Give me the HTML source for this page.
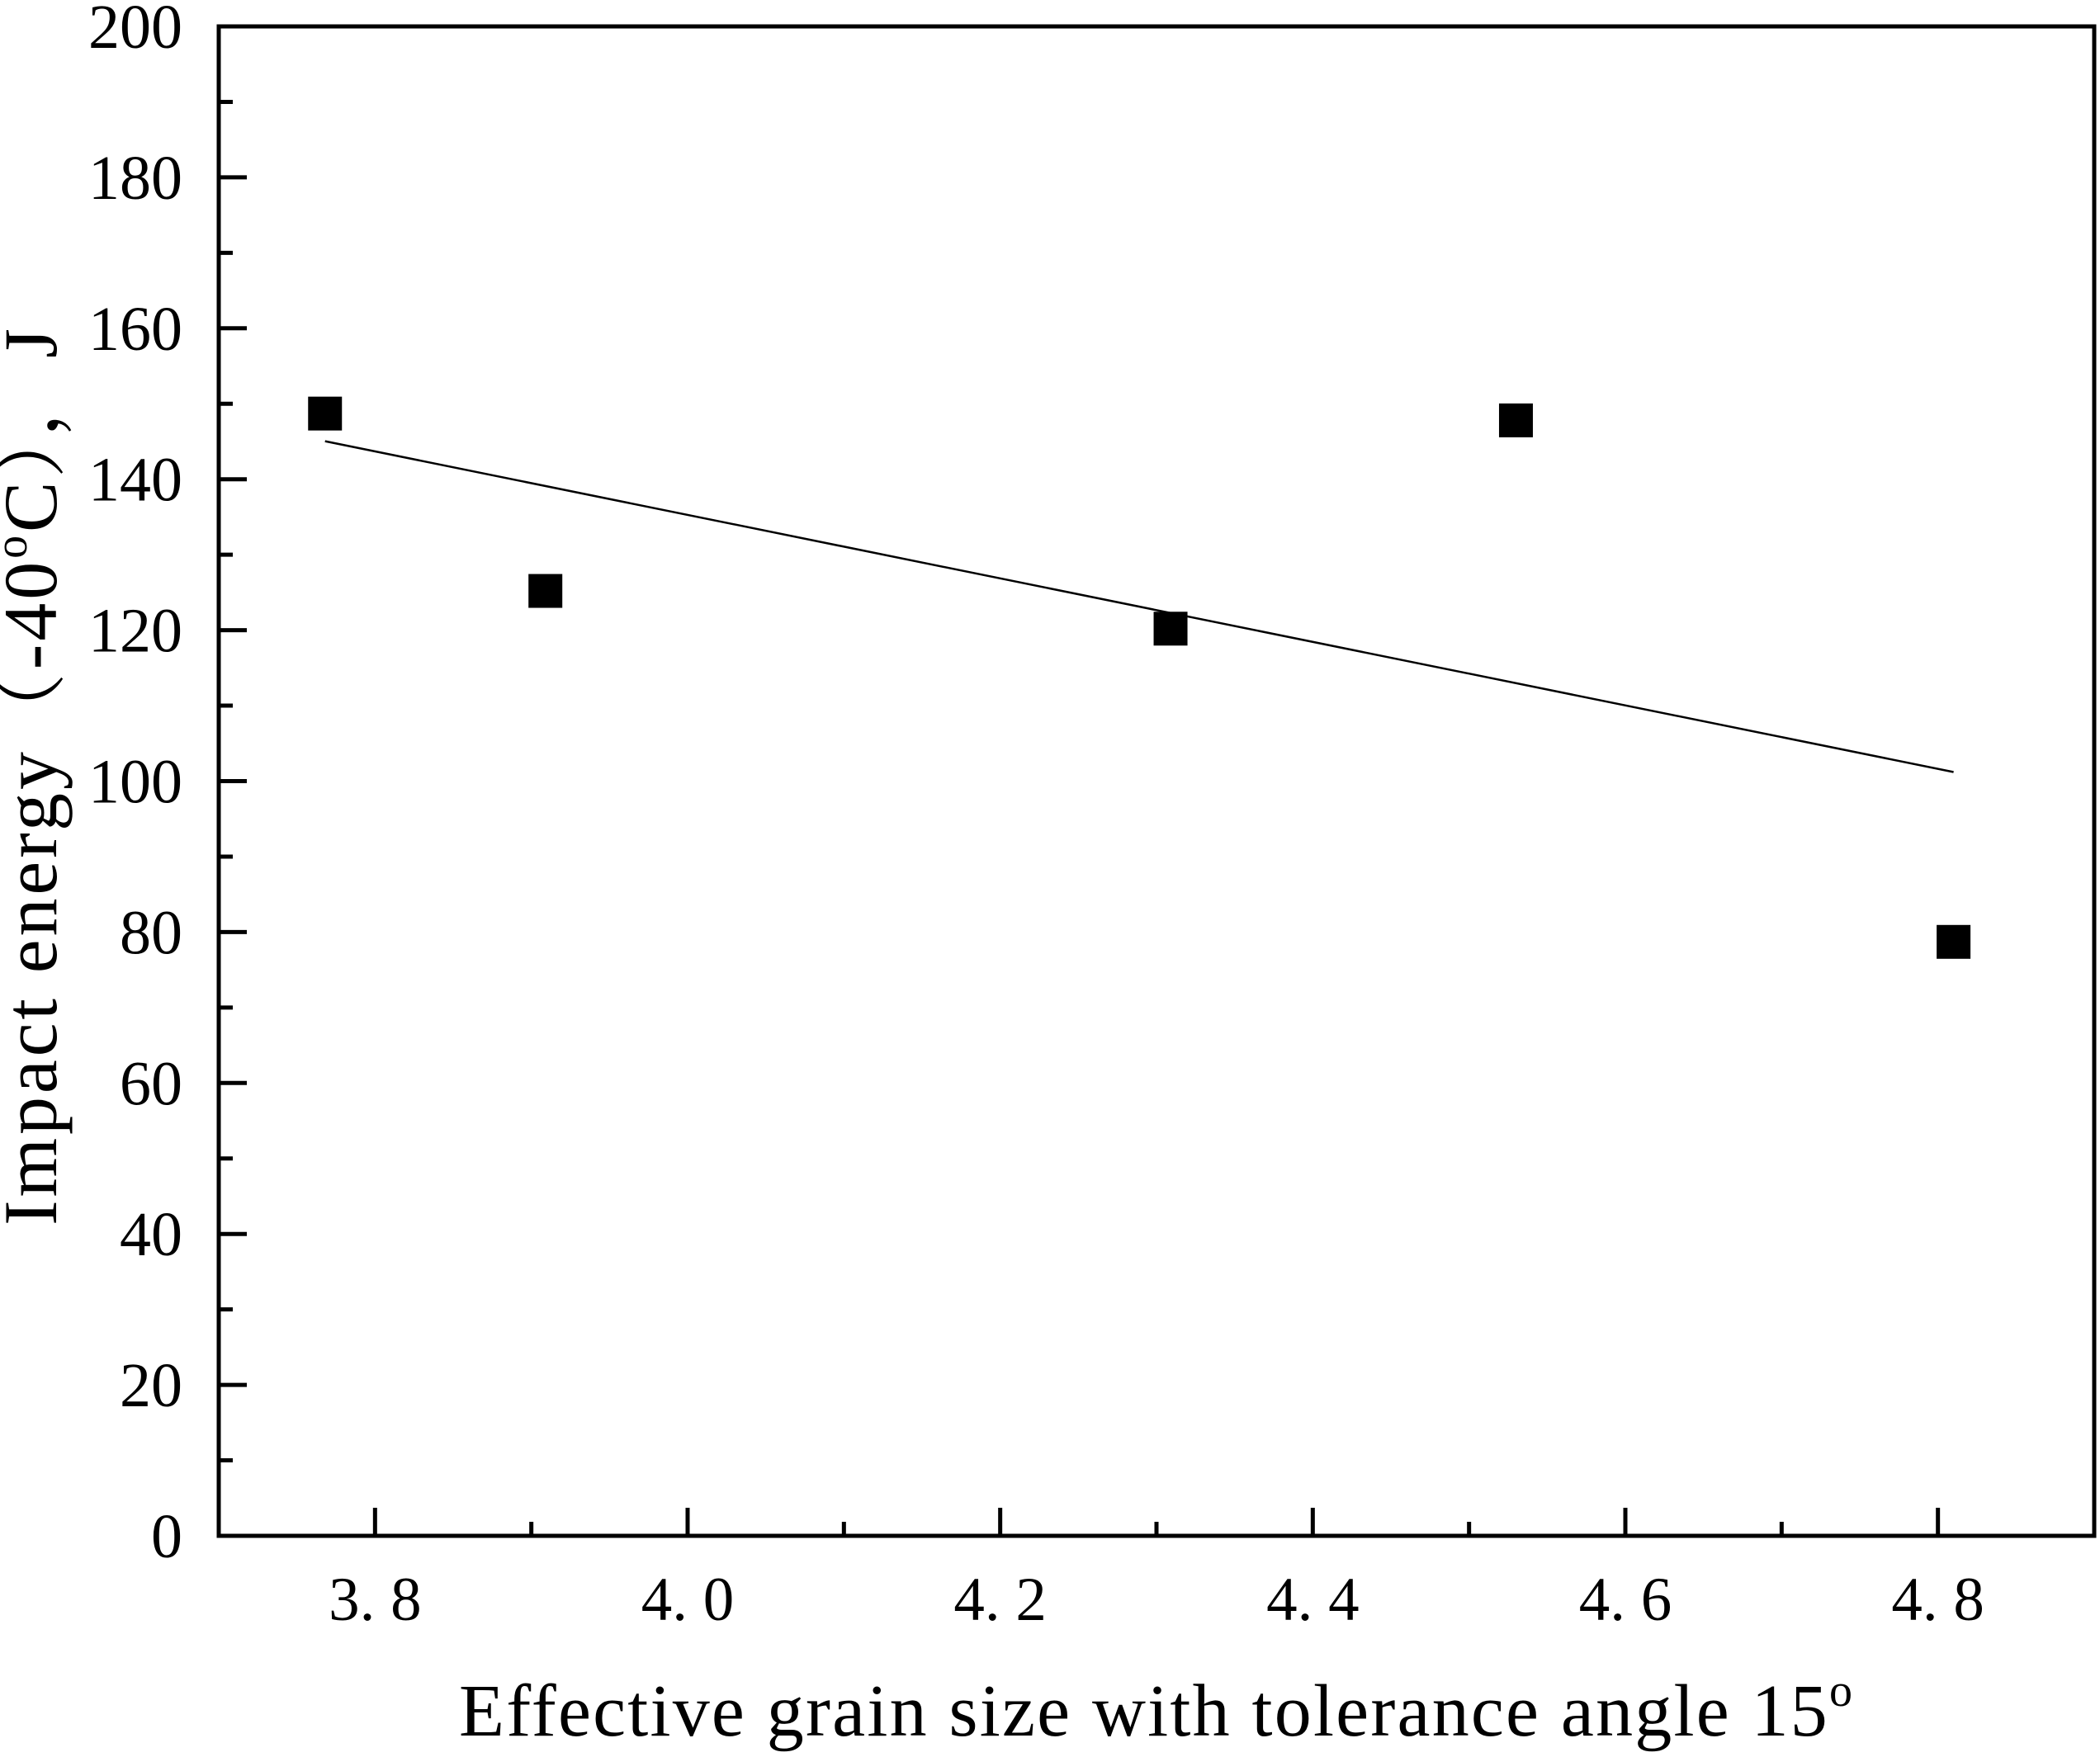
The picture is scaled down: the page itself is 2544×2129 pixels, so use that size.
<!DOCTYPE html>
<html><head><meta charset="utf-8"><style>
html,body{margin:0;padding:0;background:#fff;}
svg{display:block;font-family:"Liberation Serif","Noto Serif CJK SC",serif;}
</style></head><body>
<svg id="chart" width="2544" height="2129" viewBox="0 0 2544 2129" xmlns="http://www.w3.org/2000/svg">
<rect x="0" y="0" width="2544" height="2129" fill="#fff"/>
<g id="ticks"></g>
<g id="marks"></g>
<rect x="265" y="32" width="2272" height="1829" fill="none" stroke="#000" stroke-width="5"/>
<text x="1400" y="2103" text-anchor="middle" font-size="90" textLength="1688">Effective grain size with tolerance angle 15<tspan dy="-36" font-size="56">o</tspan></text>
<text transform="translate(68,1485) rotate(-90)" x="0" y="0" font-size="92" textLength="1087">Impact energy（-40<tspan dy="-36" font-size="56">o</tspan><tspan dy="36">C），J</tspan></text>
</svg>
<script>
const xValues = [3.768, 3.909, 4.309, 4.530, 4.810];
const yValues = [148.7, 125.2, 120.2, 147.8, 78.7];
const xTickLabels = ["3. 8", "4. 0", "4. 2", "4. 4", "4. 6", "4. 8"];
const xTickValues = [3.8, 4.0, 4.2, 4.4, 4.6, 4.8];
const yTickValues = [0, 20, 40, 60, 80, 100, 120, 140, 160, 180, 200];

const L = 265, R = 2537, T = 32, B = 1861;
const xMin = 3.7, xMax = 4.9, yMin = 0, yMax = 200;
const sx = v => L + (v - xMin) / (xMax - xMin) * (R - L);
const sy = v => B - (v - yMin) / (yMax - yMin) * (B - T);
const NS = "http://www.w3.org/2000/svg";
const ticks = document.getElementById('ticks');
const marks = document.getElementById('marks');
function mk(tag, attrs, parent) {
  const e = document.createElementNS(NS, tag);
  for (const k in attrs) e.setAttribute(k, attrs[k]);
  parent.appendChild(e);
  return e;
}
for (let i = 0; i < xTickValues.length; i++) {
  const x = sx(xTickValues[i]);
  const t = mk('line', {x1: x, x2: x, y1: B, y2: B - 34, stroke: '#000', 'stroke-width': 5}, ticks);
  
  
  const lb = mk('text', {x: x, y: 1963, 'text-anchor': 'middle', 'font-size': 75}, ticks);
  lb.textContent = xTickLabels[i];
  
  
}
for (let i = 0; i < xTickValues.length; i++) {
  const v = xTickValues[i] + 0.1;
  if (v >= xMax) continue;
  const x = sx(v);
  const t = mk('line', {x1: x, x2: x, y1: B, y2: B - 17, stroke: '#000', 'stroke-width': 5}, ticks);
  
  
}
for (let i = 0; i < yTickValues.length; i++) {
  const y = sy(yTickValues[i]);
  const t = mk('line', {x1: L, x2: L + 34, y1: y, y2: y, stroke: '#000', 'stroke-width': 5}, ticks);
  
  
  const lb = mk('text', {x: 221, y: y + 26, 'text-anchor': 'end', 'font-size': 76}, ticks);
  lb.textContent = String(yTickValues[i]);
  
  
  if (i < yTickValues.length - 1) {
    const ym = sy(yTickValues[i] + 10);
    const m = mk('line', {x1: L, x2: L + 17, y1: ym, y2: ym, stroke: '#000', 'stroke-width': 5}, ticks);
    
    
  }
}
const n = xValues.length;
const mx = xValues.reduce((a, b) => a + b, 0) / n;
const my = yValues.reduce((a, b) => a + b, 0) / n;
let sxy = 0, sxx = 0;
for (let i = 0; i < n; i++) { sxy += (xValues[i] - mx) * (yValues[i] - my); sxx += (xValues[i] - mx) ** 2; }
const slope = sxy / sxx, icpt = my - slope * mx;
const x0 = Math.min(...xValues), x1 = Math.max(...xValues);
const fit = mk('line', {x1: sx(x0), y1: sy(icpt + slope * x0), x2: sx(x1), y2: sy(icpt + slope * x1), stroke: '#000', 'stroke-width': 2.5}, marks);


for (let i = 0; i < n; i++) {
  const p = mk('rect', {x: sx(xValues[i]) - 20.5, y: sy(yValues[i]) - 20.5, width: 41, height: 41, fill: '#000'}, marks);
  
  
}
</script>
</body></html>
